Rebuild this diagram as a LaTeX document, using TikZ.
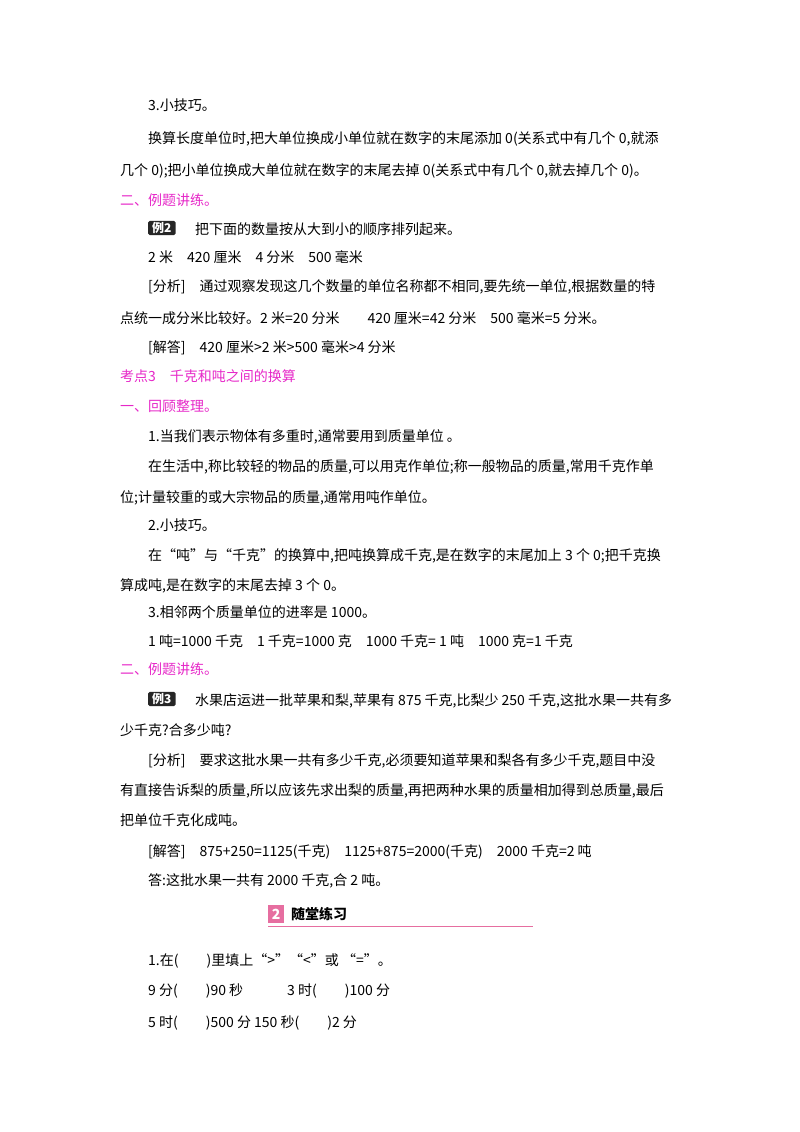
\documentclass[tikz,border=0pt]{standalone}
\usepackage{fontspec}
\setmainfont{Noto Sans CJK SC}
\definecolor{mag}{RGB}{230,40,200}
\definecolor{pk}{RGB}{230,110,160}
\begin{document}
\begin{tikzpicture}[x=1pt,y=-1pt,
 t/.style={anchor=base west,inner sep=0,font=\fontsize{14}{14}\selectfont},
 m/.style={t,text=mag},
 badge/.style={anchor=west,fill=black!85,rounded corners=1.5,inner xsep=4,inner ysep=1.5,text=white,font=\fontsize{12}{12}\selectfont\bfseries}]
\useasboundingbox (0,0) rectangle (800,1132);
\node[t] (a1) at (148,110) {3.小技巧。};
\node[t] (a2) at (148,143) {换算长度单位时,把大单位换成小单位就在数字的末尾添加 0(关系式中有几个 0,就添};
\node[t] (a3) at (120,175) {几个 0);把小单位换成大单位就在数字的末尾去掉 0(关系式中有几个 0,就去掉几个 0)。};
\node[m] (a4) at (120,205) {二、例题讲练。};
\node[badge] (b2) at (148,228) {例2};
\node[t] (a5) at (195,234) {把下面的数量按从大到小的顺序排列起来。};
\node[t] (a6) at (148,262) {2 米\quad 420 厘米\quad 4 分米\quad 500 毫米};
\node[t] (a7) at (148,291) {[分析]\quad 通过观察发现这几个数量的单位名称都不相同,要先统一单位,根据数量的特};
\node[t] (a8) at (120,323) {点统一成分米比较好。2 米=20 分米\qquad 420 厘米=42 分米\quad 500 毫米=5 分米。};
\node[t] (a9) at (148,352) {[解答]\quad 420 厘米>2 米>500 毫米>4 分米};
\node[m] (a10) at (120,381) {考点3\quad 千克和吨之间的换算};
\node[m] (a11) at (120,411) {一、回顾整理。};
\node[t] (a12) at (148,441) {1.当我们表示物体有多重时,通常要用到质量单位\ 。};
\node[t] (a13) at (148,471) {在生活中,称比较轻的物品的质量,可以用克作单位;称一般物品的质量,常用千克作单};
\node[t] (a14) at (120,502) {位;计量较重的或大宗物品的质量,通常用吨作单位。};
\node[t] (a15) at (148,530) {2.小技巧。};
\node[t] (a16) at (148,560) {在“吨”与“千克”的换算中,把吨换算成千克,是在数字的末尾加上 3 个 0;把千克换};
\node[t] (a17) at (120,590) {算成吨,是在数字的末尾去掉 3 个 0。};
\node[t] (a18) at (148,617) {3.相邻两个质量单位的进率是 1000。};
\node[t] (a19) at (148,646) {1 吨=1000 千克\quad 1 千克=1000 克\quad 1000 千克= 1 吨\quad 1000 克=1 千克};
\node[m] (a20) at (120,674) {二、例题讲练。};
\node[badge] (b3) at (148,699) {例3};
\node[t] (a21) at (195,705) {水果店运进一批苹果和梨,苹果有 875 千克,比梨少 250 千克,这批水果一共有多};
\node[t] (a22) at (120,735) {少千克?合多少吨?};
\node[t] (a23) at (148,765) {[分析]\quad 要求这批水果一共有多少千克,必须要知道苹果和梨各有多少千克,题目中没};
\node[t] (a24) at (120,795) {有直接告诉梨的质量,所以应该先求出梨的质量,再把两种水果的质量相加得到总质量,最后};
\node[t] (a25) at (120,825) {把单位千克化成吨。};
\node[t] (a26) at (148,856) {[解答]\quad 875+250=1125(千克)\quad 1125+875=2000(千克)\quad 2000 千克=2 吨};
\node[t] (a27) at (148,885) {答:这批水果一共有 2000 千克,合 2 吨。};
\node[anchor=west,fill=pk,minimum width=16,minimum height=18,inner sep=0,text=white,font=\fontsize{14}{14}\selectfont\bfseries\itshape] (h2) at (268,914) {2};
\node[anchor=west,inner sep=0,font=\fontsize{14}{14}\selectfont\bfseries] (h) at (291,914) {随堂练习};
\coordinate (u1) at (268,926); \coordinate (u2) at (533,926);
\draw[pk,line width=1] (u1) -- (u2);
\node[t] (c1) at (148,965) {1.在(\qquad )里填上“>”“<”或 “=”。};
\node[t] (c2) at (148,995) {9 分(\qquad )90 秒\hspace{44pt}3 时(\qquad )100 分};
\node[t] (c3) at (148,1027) {5 时(\qquad )500 分\ 150 秒(\qquad )2 分};
\end{tikzpicture}
\end{document}
